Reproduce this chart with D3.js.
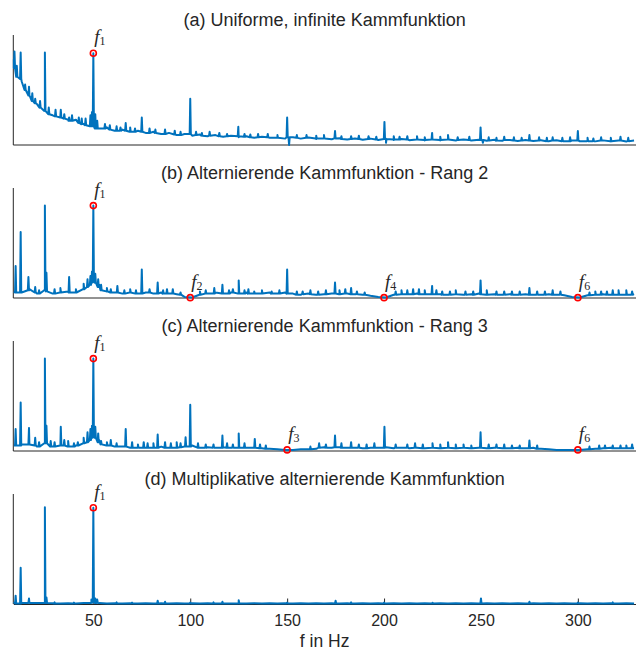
<!DOCTYPE html>
<html>
<head>
<meta charset="utf-8">
<script src="https://cdn.jsdelivr.net/npm/d3@7"></script>
<style>
body { margin: 0; background: #fff; }
svg text { font-family: "Liberation Sans", Arial, sans-serif; fill: #262626; }
.lbl { font-family: "Liberation Serif", serif; }
</style>
</head>
<body>
<div id="chart"></div>
<script>

const titles = [
  "(a) Uniforme, infinite Kammfunktion",
  "(b) Alternierende Kammfunktion - Rang 2",
  "(c) Alternierende Kammfunktion - Rang 3",
  "(d) Multiplikative alternierende Kammfunktion"
];

const xTicks = [50, 100, 150, 200, 250, 300];
const xLabel = "f in Hz";

// noise floor, sampled every 4 Hz from 9 Hz
const floorFreqs = d3.range(9, 330, 4);

const floorA = [
  .78,.58,.46,.37,.33,.27,.27,.23,.23,.19,
  .18,.15,.16,.13,.14,.12,.13,.11,.12,.10,
  .11,.09,.10,.085,.095,.08,.09,.075,.085,.07,
  .08,.065,.075,.065,.072,.058,.07,.058,.068,.055,
  .064,.052,.062,.05,.06,.048,.058,.046,.056,.045,
  .054,.044,.054,.042,.052,.042,.05,.04,.05,.04,
  .048,.038,.048,.038,.046,.036,.046,.036,.044,.035,
  .044,.034,.042,.034,.042,.033,.042,.033,.04,.032,
  .04
];
const floorB = [
  .06,.05,.08,.04,.08,.04,.05,.06,.05,.09,
  .15,.12,.06,.05,.04,.05,.04,.05,.04,.05,
  .04,.035,.01,.005,.03,.04,.05,.04,.05,.04,
  .05,.04,.04,.05,.04,.05,.04,.03,.04,.03,
  .035,.04,.035,.04,.035,.03,.02,.01,.005,.03,
  .04,.035,.04,.035,.04,.035,.03,.035,.03,.035,
  .04,.03,.035,.03,.035,.03,.035,.03,.03,.035,
  .03,.025,.01,.005,.025,.03,.035,.03,.035,.03,
  .035
];
const floorC = [
  .05,.06,.07,.04,.07,.04,.05,.04,.05,.08,
  .14,.10,.05,.04,.04,.03,.04,.03,.035,.04,
  .03,.035,.04,.05,.03,.035,.03,.035,.03,.035,
  .03,.03,.025,.02,.015,.01,.01,.015,.015,.02,
  .035,.03,.035,.03,.03,.025,.03,.03,.035,.025,
  .03,.025,.03,.025,.03,.025,.03,.025,.03,.025,
  .03,.025,.03,.025,.025,.03,.025,.03,.02,.015,
  .01,.01,.01,.01,.015,.02,.025,.03,.025,.03,
  .025
];
const floorD = [
  .02,.01,.012,.008,.01,.006,.005,.006,.005,.008,
  .012,.008,.005,.006,.005,.006,.005,.006,.005,.006,
  .005,.006,.005,.006,.005,.006,.005,.006,.005,.006,
  .005,.006,.005,.006,.005,.006,.005,.006,.005,.006,
  .005,.006,.005,.006,.005,.006,.005,.006,.005,.006,
  .005,.006,.005,.006,.005,.006,.005,.006,.005,.006,
  .005,.006,.005,.006,.005,.006,.005,.006,.005,.006,
  .005,.006,.005,.006,.005,.006,.005,.006,.005,.006,
  .005
];

// spectral lines: [frequency, peak, foot]
const peaksA = [
  [9.3,.85,.70],[12.5,.84,.60],[14.8,.55,.50],[16.8,.53,.45],[20,.42,.38],[25,.84,.31],
  [33.2,.32,.25],[37.5,.25,.22],[46,.24,.18],[48.5,.27,.17],[49.3,.30,.17],[50,.834,.17],
  [51,.28,.15],[52,.22,.15],[66.7,.20,.13],[75,.25,.12],[87,.14,.10],[100,.42,.10],
  [110,.12,.085],[124.8,.165,.08],[140,.10,.07],[150,.25,.07],[160,.09,.065],[174.7,.127,.06],
  [183,.08,.055],[192,.08,.055],[200.2,.21,.055],[212,.08,.05],[224.8,.11,.05],[233,.09,.05],
  [249.8,.16,.045],[262,.075,.045],[275,.09,.04],[287,.07,.04],[300,.127,.04],[312,.07,.04],
  [322,.075,.04],[151,.0,.07],[201,.02,.055],[251,.02,.045]
];
const peaksB = [
  [9.9,.29,.05],[12.5,.60,.05],[16.5,.19,.07],[20,.10,.05],[25,.84,.07],[25.8,.23,.06],
  [37.5,.19,.05],[45,.13,.08],[47,.17,.10],[48.5,.20,.12],[49.3,.24,.14],[50,.84,.15],
  [51,.22,.14],[52.5,.17,.10],[54,.12,.07],[62.4,.11,.05],[75,.26,.04],[83.2,.14,.04],
  [91,.08,.04],[112.4,.09,.04],[116.6,.12,.04],[125,.16,.04],[133,.06,.04],[137,.07,.04],
  [142,.06,.04],[150,.26,.04],[155,.06,.03],[162,.07,.035],[174.7,.14,.04],[180,.08,.04],
  [183,.09,.035],[212,.07,.035],[218,.08,.035],[224.8,.11,.035],[230,.06,.03],[242,.06,.03],
  [249.8,.16,.035],[258,.06,.03],[266,.06,.03],[275,.09,.03],[283,.06,.03],[312,.06,.03],
  [318,.07,.03],[325,.07,.03]
];
const peaksC = [
  [9.9,.20,.05],[12.5,.44,.05],[16.8,.21,.06],[20,.12,.05],[25,.84,.07],[25.8,.23,.07],
  [33.2,.22,.05],[35,.10,.05],[40,.07,.04],[45,.12,.07],[47,.17,.08],[48.5,.20,.10],
  [49.3,.23,.12],[50,.84,.13],[51,.22,.12],[52.5,.16,.08],[54,.09,.06],[66.7,.20,.04],
  [73,.06,.03],[78,.07,.03],[83.2,.15,.03],[87,.08,.03],[97.6,.125,.04],[100,.42,.04],
  [108,.06,.03],[116.6,.14,.03],[125,.16,.03],[133.3,.11,.03],[166.5,.07,.03],[174.7,.14,.035],
  [183,.08,.03],[200.2,.22,.03],[212,.06,.03],[216,.07,.03],[225,.07,.03],[233,.08,.03],
  [241,.06,.03],[249.8,.17,.03],[258,.06,.03],[266,.05,.025],[275,.095,.025],[318,.05,.025],
  [322,.05,.025]
];
const peaksD = [
  [9.9,.076,.005],[12.5,.33,.005],[16.8,.05,.01],[25,.88,.01],[25.8,.06,.01],[49,.04,.01],
  [50,.875,.02],[51,.05,.01],[52,.04,.01],[83.2,.03,.005],[87,.02,.005],[116.6,.02,.005],
  [125,.035,.005],[175,.03,.005],[250,.05,.005],[275,.02,.005]
];

// small ripples in the noise floor: [frequency, peak, foot]
const minorA = [
  [10.5,.72,.62],[18.5,.47,.40],[22.5,.40,.34],[27,.34,.28],[30.5,.32,.26],[35,.28,.24],
  [39,.27,.22],[42.5,.25,.20],[44,.24,.19],[56,.19,.15],[58.5,.18,.14],[62,.17,.13],
  [64,.16,.13],[69,.16,.12],[71.5,.15,.12],[79,.15,.11],[82,.14,.11],[92,.13,.095],
  [95,.12,.09],[103,.12,.09],[106,.11,.085],[115,.11,.08],[119,.10,.08],[128,.10,.075],
  [131,.095,.07],[135,.10,.07],[145,.09,.065],[155,.09,.065],[165,.085,.06],[169,.09,.06],
  [178,.08,.055],[187,.085,.055],[196,.075,.05],[205,.08,.05],[208,.075,.05],[217,.08,.05],
  [221,.07,.045],[229,.075,.045],[238,.07,.045],[244,.075,.045],[254,.07,.04],[258,.065,.04],
  [267,.07,.04],[271,.065,.04],[280,.07,.04],[284,.065,.035],[292,.065,.035],[296,.07,.035],
  [305,.065,.035],[308,.06,.035],[317,.065,.035],[326,.065,.035]
];
const minorB = [
  [22,.07,.04],[30,.08,.04],[33,.09,.05],[41,.08,.05],[57,.09,.06],[59,.08,.05],
  [66,.07,.04],[69,.08,.05],[72,.07,.04],[79,.08,.05],[86,.07,.04],[88,.08,.04],
  [95,.05,.03],[105,.06,.03],[108,.07,.04],[120,.07,.04],[122,.08,.05],[128,.07,.04],
  [130,.08,.04],[146,.07,.04],[158,.06,.035],[166,.06,.03],[170,.07,.035],[177,.07,.035],
  [186,.06,.035],[190,.05,.03],[206,.06,.03],[209,.07,.035],[215,.08,.035],[221,.07,.035],
  [227,.07,.035],[234,.06,.03],[237,.07,.035],[246,.06,.03],[253,.07,.03],[262,.06,.03],
  [270,.06,.03],[279,.06,.03],[287,.07,.03],[291,.06,.03],[306,.05,.025],[309,.06,.03],
  [315,.06,.03],[321,.07,.03],[328,.06,.03]
];
const minorC = [
  [22,.08,.04],[28,.09,.04],[30,.08,.04],[37,.09,.04],[42,.08,.05],[57,.08,.05],
  [59,.10,.05],[62,.07,.04],[70,.08,.03],[76,.08,.03],[81,.07,.03],[90,.07,.03],
  [93,.08,.03],[95,.07,.035],[104,.07,.03],[112,.06,.03],[119,.07,.03],[122,.06,.03],
  [128,.07,.03],[136,.06,.025],[139,.05,.02],[162,.04,.015],[170,.06,.03],[178,.07,.03],
  [187,.06,.03],[191,.06,.025],[195,.07,.03],[206,.06,.03],[220,.06,.025],[229,.06,.025],
  [237,.06,.025],[245,.05,.025],[254,.06,.025],[262,.06,.025],[270,.05,.025],[279,.05,.02],
  [306,.04,.015],[311,.05,.02],[314,.05,.025],[325,.05,.025],[328,.06,.025]
];
const minorD = [
  [30,.015,.005],[40,.012,.005],[62,.015,.005],[70,.012,.005],[100,.012,.005],[112,.015,.005],
  [150,.012,.005],[183,.015,.005],[200,.012,.005],[225,.012,.005],[300,.012,.005],[318,.015,.005]
];

// marked harmonics: [frequency, amplitude, index]
const marksA = [[50,.834,"1"]];
const marksB = [[50,.84,"1"],[100,.003,"2"],[200,.003,"4"],[300,.003,"6"]];
const marksC = [[50,.84,"1"],[150,.01,"3"],[300,.01,"6"]];
const marksD = [[50,.875,"1"]];

const panels = [
  {title: titles[0], floor: floorA, peaks: peaksA.concat(minorA), marks: marksA},
  {title: titles[1], floor: floorB, peaks: peaksB.concat(minorB), marks: marksB},
  {title: titles[2], floor: floorC, peaks: peaksC.concat(minorC), marks: marksC},
  {title: titles[3], floor: floorD, peaks: peaksD.concat(minorD), marks: marksD}
];

const w = 636;
const h = 651;
const left = 13.3;
const right = 636;
const panelH = 110;
const panelTops = [35, 188, 341, 494];

const svg = d3.select("#chart")
  .append("svg")
  .attr("width", w)
  .attr("height", h);

const xScale = d3.scaleLinear()
  .domain([8.7, 330])
  .range([left, right]);

function series(floor, peaks) {
  const n = Math.min(floor.length, floorFreqs.length);
  const pts = [];
  for (let i = 0; i < n; i++) pts.push({f: floorFreqs[i], v: floor[i]});
  peaks.forEach(p => {
    pts.push({f: p[0] - 0.3, v: p[2]});
    pts.push({f: p[0], v: p[1]});
    pts.push({f: p[0] + 0.3, v: p[2]});
  });
  return pts.sort((a, b) => a.f - b.f);
}

panels.forEach((p, k) => {
  const top = panelTops[k];
  const yScale = d3.scaleLinear()
    .domain([0, 1])
    .range([top + panelH, top]);

  const g = svg.append("g");

  g.append("text")
    .attr("x", (left + right) / 2)
    .attr("y", top - 9)
    .attr("text-anchor", "middle")
    .style("font-size", "18px")
    .text(p.title);

  g.append("line")
    .attr("x1", left).attr("x2", left)
    .attr("y1", top).attr("y2", top + panelH)
    .attr("stroke", "#262626");

  if (k === 3) {
    const xAxis = d3.axisBottom(xScale)
      .tickValues(xTicks)
      .tickSizeInner(-5.5)
      .tickSizeOuter(0)
      .tickPadding(11);
    const ax = g.append("g")
      .attr("transform", "translate(0," + (top + panelH) + ")")
      .call(xAxis);
    ax.select(".domain").attr("stroke", "#262626");
    ax.selectAll(".tick line").attr("stroke", "#262626");
    ax.selectAll(".tick text")
      .style("font-size", "16px")
      .style("font-family", "'Liberation Sans', Arial, sans-serif")
      .attr("fill", "#262626");
  } else {
    g.append("line")
      .attr("x1", left).attr("x2", right)
      .attr("y1", top + panelH).attr("y2", top + panelH)
      .attr("stroke", "#262626");
  }

  const line = d3.line()
    .x(d => xScale(d.f))
    .y(d => yScale(d.v));

  g.append("path")
    .datum(series(p.floor, p.peaks))
    .attr("d", line)
    .attr("fill", "none")
    .attr("stroke", "#0072BD")
    .attr("stroke-width", 2)
    .attr("stroke-linejoin", "round");

  g.selectAll(".mark")
    .data(p.marks)
    .enter()
    .append("circle")
    .attr("class", "mark")
    .attr("cx", d => xScale(d[0]))
    .attr("cy", d => yScale(d[1]))
    .attr("r", 3)
    .attr("fill", "none")
    .attr("stroke", "#ff0000")
    .attr("stroke-width", 1.6);

  const lbl = g.selectAll(".lbl")
    .data(p.marks)
    .enter()
    .append("text")
    .attr("class", "lbl")
    .attr("x", d => xScale(d[0]) + 1)
    .attr("y", d => yScale(d[1]) - 10)
    .style("font-size", "19px");

  lbl.append("tspan")
    .style("font-style", "italic")
    .text("f");
  lbl.append("tspan")
    .attr("dy", 2)
    .style("font-size", "12px")
    .text(d => d[2]);
});

svg.append("text")
  .attr("x", (left + right) / 2)
  .attr("y", 647)
  .attr("text-anchor", "middle")
  .style("font-size", "17.5px")
  .text(xLabel);

</script>
</body>
</html>
